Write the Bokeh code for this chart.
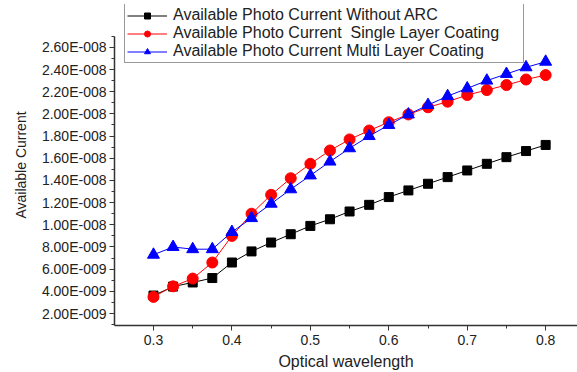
from bokeh.plotting import figure
from bokeh.models import Range1d, FixedTicker, CustomJSTickFormatter, Legend, LegendItem
from bokeh.embed import file_html
from bokeh.resources import INLINE

wavelength = [0.3, 0.325, 0.35, 0.375, 0.4, 0.425, 0.45, 0.475, 0.5, 0.525, 0.55,
              0.575, 0.6, 0.625, 0.65, 0.675, 0.7, 0.725, 0.75, 0.775, 0.8]
without_arc = [3.62e-9, 4.43e-9, 4.8e-9, 5.2e-9, 6.6e-9, 7.6e-9, 8.4e-9, 9.15e-9, 9.9e-9, 10.5e-9,
               11.2e-9, 11.8e-9, 12.5e-9, 13.1e-9, 13.7e-9, 14.3e-9, 14.9e-9, 15.5e-9, 16.1e-9,
               16.65e-9, 17.2e-9]
single_layer = [3.5e-9, 4.45e-9, 5.15e-9, 6.6e-9, 9.0e-9, 11.0e-9, 12.7e-9, 14.2e-9, 15.5e-9,
                16.7e-9, 17.7e-9, 18.5e-9, 19.25e-9, 19.95e-9, 20.6e-9, 21.1e-9, 21.7e-9,
                22.15e-9, 22.6e-9, 23.1e-9, 23.5e-9]
multi_layer = [7.3e-9, 8.0e-9, 7.8e-9, 7.8e-9, 9.35e-9, 10.6e-9, 11.9e-9, 13.2e-9, 14.45e-9,
               15.7e-9, 16.9e-9, 18.0e-9, 19.0e-9, 19.95e-9, 20.8e-9, 21.6e-9, 22.3e-9,
               23.0e-9, 23.6e-9, 24.2e-9, 24.7e-9]
series_names = ["Available Photo Current Without ARC",
                "Available Photo Current  Single Layer Coating",
                "Available Photo Current Multi Layer Coating"]
x_ticks = [0.3, 0.4, 0.5, 0.6, 0.7, 0.8]
y_ticks = [2e-9, 4e-9, 6e-9, 8e-9, 10e-9, 12e-9, 14e-9, 16e-9, 18e-9, 20e-9, 22e-9, 24e-9, 26e-9]
y_axis_bounds = (0.92e-9, 26.99e-9)

FONT = "Liberation Sans"

# frame spans pixel rows 4..326; axis line itself only spans y_axis_bounds
y_start = 0.92e-9
y_end = y_start + 322 / 11.125 * 1e-9

p = figure(width=577, height=372, output_backend="svg", toolbar_location=None,
           x_range=Range1d(0.2503, 0.8406), y_range=Range1d(y_start, y_end),
           min_border_left=114, min_border_right=0, min_border_top=4, min_border_bottom=46,
           x_axis_label="Optical wavelength", y_axis_label="Available Current")
p.outline_line_color = None
p.grid.visible = False
p.background_fill_color = "white"
p.border_fill_color = "white"

p.xaxis.ticker = FixedTicker(ticks=x_ticks, minor_ticks=[0.25, 0.35, 0.45, 0.55, 0.65, 0.75, 0.85])
p.yaxis.ticker = FixedTicker(ticks=y_ticks, minor_ticks=[1e-9 * k for k in range(1, 28, 2)])
p.yaxis.bounds = y_axis_bounds
p.yaxis.formatter = CustomJSTickFormatter(code="""
const e = Math.floor(Math.log10(Math.abs(tick)) + 1e-9);
const m = tick / Math.pow(10, e);
const es = (e < 0 ? '-' : '+') + String(Math.abs(e)).padStart(3, '0');
return m.toFixed(2) + 'E' + es;
""")

for ax in (p.xaxis, p.yaxis):
    ax.axis_line_color = "#333333"
    ax.axis_line_width = 1.5
    ax.major_tick_line_color = "#333333"
    ax.minor_tick_line_color = "#333333"
    ax.major_tick_in = 0
    ax.major_tick_out = 5
    ax.minor_tick_in = 0
    ax.minor_tick_out = 3
    ax.major_label_text_font = FONT
    ax.major_label_text_font_size = "14px"
    ax.major_label_text_color = "#222222"
    ax.axis_label_text_font = FONT
    ax.axis_label_text_font_style = "normal"
    ax.axis_label_text_color = "#222222"
p.xaxis.axis_label_text_font_size = "16px"
p.yaxis.axis_label_text_font_size = "14px"
p.xaxis.major_label_standoff = 4
p.yaxis.major_label_standoff = 3
p.xaxis.axis_label_standoff = 5
p.yaxis.axis_label_standoff = 10

l1 = p.line(wavelength, without_arc, line_color="black", line_width=1)
m1 = p.scatter(wavelength, without_arc, marker="square", size=9, fill_color="black", line_color="black")
l2 = p.line(wavelength, single_layer, line_color="red", line_width=1)
m2 = p.scatter(wavelength, single_layer, marker="circle", size=11, fill_color="red", line_color="red")
l3 = p.line(wavelength, multi_layer, line_color="blue", line_width=1)
m3 = p.scatter(wavelength, multi_layer, marker="triangle", size=12, fill_color="blue", line_color="blue")

legend = Legend(items=[LegendItem(label=series_names[0], renderers=[l1, m1]),
                       LegendItem(label=series_names[1], renderers=[l2, m2]),
                       LegendItem(label=series_names[2], renderers=[l3, m3])],
                location=(10, 262))
legend.label_text_font = FONT
legend.label_text_font_size = "16px"
legend.label_text_color = "#222222"
legend.glyph_width = 40
legend.glyph_height = 15
legend.label_height = 15
legend.label_width = 348
legend.label_standoff = 6
legend.spacing = 0
legend.padding = 2
legend.margin = 0
legend.border_line_color = "#333333"
legend.border_line_width = 1
legend.background_fill_alpha = 1
p.add_layout(legend, "center")

open("out.html", "w").write(file_html(p, INLINE))
